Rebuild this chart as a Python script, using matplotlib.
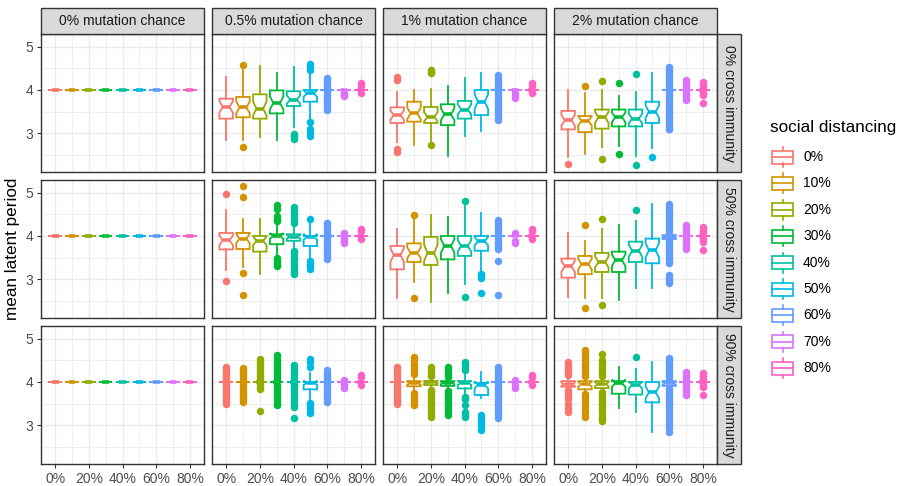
import matplotlib
matplotlib.use('Agg')
import matplotlib.pyplot as plt
from matplotlib.patches import Rectangle
import numpy as np

plt.rcParams['font.family'] = ['Liberation Sans', 'DejaVu Sans']

# ---------------- data ----------------
distancing = ['0%', '10%', '20%', '30%', '40%', '50%', '60%', '70%', '80%']
distancing_x = [0, 10, 20, 30, 40, 50, 60, 70, 80]
x_ticks = [0, 20, 40, 60, 80]
x_ticklabels = ['0%', '20%', '40%', '60%', '80%']
mutation_labels = ['0% mutation chance', '0.5% mutation chance', '1% mutation chance', '2% mutation chance']
immunity_labels = ['0% cross immunity', '50% cross immunity', '90% cross immunity']
colors = ['#F8766D', '#D39200', '#93AA00', '#00BA38', '#00C19F', '#00B9E3', '#619CFF', '#DB72FB', '#FF61C3']
n_runs = 30  # runs per box (used for notch width)

# box stats: (lower whisker, q1, median, q3, upper whisker)
stats_m0 = [(4, 4, 4, 4, 4)] * 9
fliers_m0 = [[] for _ in range(9)]

stats_m05_c0 = [(2.84, 3.34, 3.61, 3.80, 4.30), (2.84, 3.37, 3.60, 3.84, 4.46), (2.92, 3.34, 3.57, 3.90, 4.56),
                (2.84, 3.46, 3.70, 3.99, 4.40), (3.15, 3.63, 3.78, 3.97, 4.52), (3.34, 3.73, 3.92, 4.00, 4.38),
                (4, 4, 4, 4, 4), (4, 4, 4, 4, 4), (4, 4, 4, 4, 4)]
fliers_m05_c0 = [[], [4.57, 2.69], [], [], [2.99, 2.93, 2.86],
                 [4.61, 4.53, 4.46, 3.27, 3.11, 3.03, 2.94],
                 [4.27, 4.22, 4.17, 4.12, 4.07, 4.03, 3.97, 3.92, 3.87, 3.82, 3.76, 3.70, 3.64, 3.58, 3.53],
                 [3.85, 3.90, 3.94], [4.15, 4.10, 3.92]]

stats_m1_c0 = [(2.80, 3.24, 3.42, 3.60, 3.96), (2.73, 3.27, 3.46, 3.73, 4.01), (2.80, 3.24, 3.38, 3.61, 4.03),
               (2.47, 3.19, 3.44, 3.67, 4.09), (2.93, 3.34, 3.55, 3.75, 4.27), (3.05, 3.42, 3.73, 4.00, 4.38),
               (4, 4, 4, 4, 4), (4, 4, 4, 4, 4), (4, 4, 4, 4, 4)]
fliers_m1_c0 = [[4.29, 4.22, 2.65, 2.57], [], [4.46, 4.42, 4.38, 2.73], [], [], [],
                [4.34, 4.28, 4.22, 4.16, 4.10, 4.05, 3.95, 3.90, 3.84, 3.78, 3.72, 3.66, 3.60, 3.54, 3.48, 3.42, 3.36, 3.30],
                [3.82, 3.87, 3.92], [4.15, 4.10, 3.93]]

stats_m2_c0 = [(2.46, 3.09, 3.30, 3.52, 4.01), (2.52, 3.03, 3.29, 3.40, 3.92), (2.69, 3.11, 3.37, 3.55, 4.00),
               (2.70, 3.16, 3.37, 3.55, 3.86), (2.47, 3.16, 3.34, 3.55, 3.96), (2.67, 3.24, 3.50, 3.73, 4.38),
               (4, 4, 4, 4, 4), (4, 4, 4, 4, 4), (4, 4, 4, 4, 4)]
fliers_m2_c0 = [[2.30], [4.09], [4.20, 2.42], [4.15, 2.53], [4.36, 2.26], [2.46],
                [4.53, 4.47, 4.41, 4.35, 4.29, 4.23, 4.17, 4.11, 4.05, 3.95, 3.89, 3.83, 3.77, 3.71, 3.65,
                 3.59, 3.53, 3.47, 3.41, 3.35, 3.29, 3.23, 3.17, 3.11, 3.09],
                [4.23, 4.17, 4.11, 4.06, 3.94, 3.88, 3.82, 3.76], [4.19, 4.13, 4.07, 3.94, 3.88, 3.70]]

stats_m05_c50 = [(3.21, 3.69, 3.90, 4.07, 4.61), (3.29, 3.70, 3.94, 4.07, 4.40), (3.13, 3.64, 3.89, 4.00, 4.38),
                 (3.53, 3.81, 4.00, 4.04, 4.29), (3.69, 3.89, 3.98, 4.04, 4.21), (3.46, 3.77, 3.98, 4.00, 4.29),
                 (4, 4, 4, 4, 4), (4, 4, 4, 4, 4), (4, 4, 4, 4, 4)]
fliers_m05_c50 = [[4.97, 2.96], [5.15, 4.90, 3.15, 2.65], [],
                  [4.71, 4.63, 4.45, 4.40, 4.35, 3.50, 3.45, 3.40, 3.35, 3.30],
                  [4.67, 4.60, 4.50, 4.42, 4.35, 4.29, 3.66, 3.60, 3.54, 3.48, 3.42, 3.36, 3.30, 3.24, 3.18, 3.13],
                  [4.38, 3.42, 3.36, 3.30, 3.25],
                  [4.29, 4.23, 4.17, 4.11, 4.05, 3.95, 3.89, 3.83, 3.77, 3.71, 3.65, 3.59, 3.53, 3.48],
                  [4.06, 3.94, 3.89, 3.84], [4.17, 4.12, 3.94]]

stats_m1_c50 = [(2.56, 3.23, 3.56, 3.77, 4.17), (2.94, 3.40, 3.61, 3.83, 4.40), (2.48, 3.33, 3.61, 3.98, 4.48),
                (2.69, 3.46, 3.77, 4.00, 4.44), (2.90, 3.54, 3.77, 4.00, 4.71), (3.17, 3.66, 3.88, 4.00, 4.52),
                (4, 4, 4, 4, 4), (4, 4, 4, 4, 4), (4, 4, 4, 4, 4)]
fliers_m1_c50 = [[], [4.48, 2.58], [], [], [4.81, 2.60], [3.13, 3.08, 3.04, 2.69],
                 [4.37, 4.31, 4.25, 4.19, 4.13, 4.07, 3.93, 3.87, 3.81, 3.75, 3.69, 3.43, 2.63],
                 [4.06, 3.88, 3.83], [4.17, 4.12, 3.94]]

stats_m2_c50 = [(2.60, 3.04, 3.30, 3.48, 4.06), (2.56, 3.12, 3.35, 3.54, 3.89), (2.56, 3.17, 3.40, 3.61, 4.15),
                (2.53, 3.17, 3.44, 3.64, 4.25), (2.79, 3.40, 3.66, 3.87, 4.35), (2.81, 3.37, 3.67, 3.94, 4.73),
                (3.93, 3.93, 3.98, 4.02, 4.02), (4, 4, 4, 4, 4), (4, 4, 4, 4, 4)]
fliers_m2_c50 = [[], [4.25, 2.33], [4.38, 2.40], [], [4.60], [],
                 [4.73, 4.67, 4.61, 4.55, 4.49, 4.43, 4.37, 4.31, 4.25, 4.19, 4.13, 4.07, 3.88, 3.82, 3.76,
                  3.70, 3.64, 3.58, 3.52, 3.46, 3.40, 3.37, 3.10, 3.04, 2.98, 2.92],
                 [4.25, 4.19, 4.13, 4.07, 3.93, 3.87, 3.81, 3.75, 3.71], [4.21, 4.15, 4.09, 3.93, 3.87, 3.67]]

stats_m05_c90 = [(4, 4, 4, 4, 4), (4, 4, 4, 4, 4), (4, 4, 4, 4, 4), (4, 4, 4, 4, 4), (4, 4, 4, 4, 4),
                 (3.56, 3.83, 3.98, 4.00, 4.20), (4, 4, 4, 4, 4), (4, 4, 4, 4, 4), (4, 4, 4, 4, 4)]
fliers_m05_c90 = [[4.35, 4.29, 4.23, 4.17, 4.11, 4.05, 3.95, 3.89, 3.83, 3.77, 3.71, 3.65, 3.59, 3.53, 3.50],
                  [4.33, 4.27, 4.21, 4.15, 4.09, 4.04, 3.96, 3.90, 3.84, 3.78, 3.72, 3.66, 3.60, 3.54],
                  [4.53, 4.47, 4.41, 4.35, 4.29, 4.23, 4.17, 4.11, 4.05, 3.95, 3.89, 3.83, 3.33],
                  [4.62, 4.56, 4.50, 4.44, 4.38, 4.32, 4.26, 4.20, 4.14, 4.08, 3.92, 3.86, 3.80, 3.74, 3.68,
                   3.62, 3.56, 3.50, 3.46],
                  [4.39, 4.33, 4.27, 4.21, 4.15, 4.09, 4.04, 3.96, 3.90, 3.84, 3.78, 3.72, 3.66, 3.60, 3.54,
                   3.48, 3.42, 3.17],
                  [4.54, 4.47, 4.35, 3.52, 3.46, 3.40, 3.34, 3.28],
                  [4.27, 4.21, 4.15, 4.09, 4.04, 3.96, 3.90, 3.84, 3.78, 3.72, 3.66, 3.60, 3.54],
                  [4.04, 3.92, 3.86], [4.16, 4.11, 3.93]]

stats_m1_c90 = [(4, 4, 4, 4, 4), (3.80, 3.90, 3.97, 4.02, 4.10), (3.85, 3.93, 3.99, 4.02, 4.10),
                (3.83, 3.91, 3.98, 4.02, 4.10), (3.68, 3.85, 3.98, 4.02, 4.17), (3.62, 3.70, 3.93, 3.98, 4.22),
                (4, 4, 4, 4, 4), (4, 4, 4, 4, 4), (4, 4, 4, 4, 4)]
fliers_m1_c90 = [[4.35, 4.29, 4.23, 4.17, 4.11, 4.05, 3.95, 3.89, 3.83, 3.77, 3.71, 3.65, 3.59, 3.53, 3.50],
                 [4.58, 4.50, 4.42, 4.34, 4.26, 4.19, 3.74, 3.68, 3.62, 3.56, 3.50, 3.46],
                 [4.35, 4.29, 4.23, 4.17, 4.13, 3.81, 3.75, 3.69, 3.63, 3.57, 3.51, 3.45, 3.39, 3.33, 3.27, 3.20],
                 [4.35, 4.27, 4.19, 4.12, 3.79, 3.73, 3.67, 3.61, 3.55, 3.49, 3.43, 3.37, 3.31, 3.25],
                 [4.47, 4.41, 4.34, 4.27, 3.66, 3.60, 3.48, 3.30, 3.24, 3.20],
                 [3.23, 3.17, 3.11, 3.05, 2.99, 2.89],
                 [4.35, 4.29, 4.23, 4.17, 4.11, 4.05, 3.95, 3.89, 3.83, 3.77, 3.71, 3.65, 3.59, 3.53, 3.47,
                  3.41, 3.35, 3.29, 3.23, 3.16],
                 [4.04, 3.92, 3.86], [4.16, 4.11, 3.93]]

stats_m2_c90 = [(3.85, 3.89, 3.95, 4.02, 4.10), (3.80, 3.83, 3.95, 4.02, 4.08), (3.80, 3.86, 3.95, 4.02, 4.08),
                (3.39, 3.73, 3.97, 4.02, 4.35), (3.30, 3.71, 3.93, 4.00, 4.31), (2.85, 3.53, 3.76, 4.00, 4.47),
                (3.88, 3.91, 3.97, 4.02, 4.06), (4, 4, 4, 4, 4), (4, 4, 4, 4, 4)]
fliers_m2_c90 = [[4.47, 4.41, 4.35, 4.29, 4.22, 4.16, 3.81, 3.75, 3.69, 3.60, 3.50, 3.40, 3.31],
                 [4.74, 4.68, 4.62, 4.56, 4.50, 4.44, 4.38, 4.32, 4.26, 4.20, 4.14, 3.73, 3.67, 3.61, 3.55,
                  3.45, 3.35, 3.28, 3.20],
                 [4.64, 4.50, 4.44, 4.38, 4.32, 4.26, 4.20, 4.14, 3.77, 3.71, 3.65, 3.59, 3.53, 3.47, 3.41,
                  3.35, 3.29, 3.20, 3.14, 3.10],
                 [], [4.58], [],
                 [4.56, 4.50, 4.44, 4.38, 4.32, 4.26, 4.20, 4.14, 4.08, 3.85, 3.79, 3.73, 3.67, 3.61, 3.55,
                  3.49, 3.43, 3.35, 3.27, 3.19, 3.11, 3.03, 2.95, 2.85],
                 [4.23, 4.17, 4.11, 4.05, 3.95, 3.89, 3.83, 3.77, 3.71], [4.20, 4.14, 4.08, 3.94, 3.88, 3.71]]

grid_stats = [[stats_m0, stats_m05_c0, stats_m1_c0, stats_m2_c0],
              [stats_m0, stats_m05_c50, stats_m1_c50, stats_m2_c50],
              [stats_m0, stats_m05_c90, stats_m1_c90, stats_m2_c90]]
grid_fliers = [[fliers_m0, fliers_m05_c0, fliers_m1_c0, fliers_m2_c0],
               [fliers_m0, fliers_m05_c50, fliers_m1_c50, fliers_m2_c50],
               [fliers_m0, fliers_m05_c90, fliers_m1_c90, fliers_m2_c90]]

# ---------------- layout ----------------
W, H = 898, 486
fig = plt.figure(figsize=(W / 100, H / 100), dpi=100)

col_left = [41, 212, 383, 554]
col_w = 163
row_top = [34, 180, 326]
row_h = 138
strip_top_y, strip_top_h = 8, 26
strip_right_x, strip_right_w = 717, 24
BORDER = '#333333'
GRID = '#EBEBEB'
FS_SMALL = 10.0
FS_TITLE = 12.3


def fbox(x, y, w, h):
    return [x / W, 1 - (y + h) / H, w / W, h / H]


for r in range(3):
    for c in range(4):
        ax = fig.add_axes(fbox(col_left[c], row_top[r], col_w, row_h))
        ax.set_xlim(-8.4, 88.4)
        ax.set_ylim(2.11, 5.29)
        ax.set_xticks(x_ticks)
        ax.set_xticks([10, 30, 50, 70], minor=True)
        ax.set_yticks([3, 4, 5])
        ax.set_yticks([2.5, 3.5, 4.5], minor=True)
        ax.grid(which='major', color=GRID, lw=1.0)
        ax.grid(which='minor', color=GRID, lw=0.6)
        ax.set_axisbelow(True)
        for s in ax.spines.values():
            s.set_color(BORDER)
            s.set_linewidth(1.0)
        ax.tick_params(which='minor', length=0)
        ax.tick_params(which='major', direction='out', length=3, width=0.8, color=BORDER,
                       labelsize=FS_SMALL, labelcolor='#4D4D4D', pad=2.5)
        if c == 0:
            ax.set_yticklabels(['3', '4', '5'])
        else:
            ax.tick_params(axis='y', length=0, labelleft=False)
        if r == 2:
            ax.set_xticklabels(x_ticklabels)
        else:
            ax.tick_params(axis='x', length=0, labelbottom=False)

        stats = grid_stats[r][c]
        fliers = grid_fliers[r][c]
        for i in range(9):
            lo, q1, med, q3, hi = stats[i]
            half = 1.58 * (q3 - q1) / np.sqrt(n_runs)
            d = dict(whislo=lo, q1=q1, med=med, q3=q3, whishi=hi,
                     cilo=med - half, cihi=med + half, fliers=fliers[i])
            col = colors[i]
            ax.bxp([d], positions=[distancing_x[i]], widths=8, shownotches=True, showcaps=False,
                   patch_artist=True, manage_ticks=False,
                   boxprops=dict(facecolor='white', edgecolor=col, lw=1.3),
                   whiskerprops=dict(color=col, lw=1.3),
                   medianprops=dict(color=col, lw=2.6, solid_capstyle='butt'),
                   flierprops=dict(marker='o', markerfacecolor=col, markeredgecolor='none',
                                   markersize=5.4))

# overlay for strips and legend (pixel coordinates)
ov = fig.add_axes([0, 0, 1, 1], facecolor='none')
ov.set_xlim(0, W)
ov.set_ylim(H, 0)
ov.axis('off')

for c in range(4):
    ov.add_patch(Rectangle((col_left[c], strip_top_y), col_w, strip_top_h,
                           facecolor='#D9D9D9', edgecolor=BORDER, lw=1.0))
    ov.text(col_left[c] + col_w / 2, strip_top_y + strip_top_h / 2, mutation_labels[c],
            ha='center', va='center', fontsize=FS_SMALL, color='#1A1A1A')
for r in range(3):
    ov.add_patch(Rectangle((strip_right_x, row_top[r]), strip_right_w, row_h,
                           facecolor='#D9D9D9', edgecolor=BORDER, lw=1.0))
    ov.text(strip_right_x + strip_right_w / 2, row_top[r] + row_h / 2, immunity_labels[r],
            ha='center', va='center', rotation=-90, fontsize=FS_SMALL, color='#1A1A1A')

# y-axis title
ov.text(13, (row_top[0] + row_top[2] + row_h) / 2, 'mean latent period', rotation=90,
        ha='center', va='center', fontsize=FS_TITLE, color='black')

# legend
ov.text(770, 127, 'social distancing', ha='left', va='center', fontsize=FS_TITLE, color='black')
for i, lab in enumerate(distancing):
    yc = 157 + i * 26.4
    col = colors[i]
    ov.plot([782.5, 782.5], [yc - 10, yc - 6.5], color=col, lw=1.2)
    ov.plot([782.5, 782.5], [yc + 6.5, yc + 10], color=col, lw=1.2)
    ov.add_patch(Rectangle((772, yc - 6.5), 21, 13, facecolor='white', edgecolor=col, lw=1.2))
    ov.plot([772, 793], [yc, yc], color=col, lw=1.2)
    ov.text(803, yc, lab, ha='left', va='center', fontsize=FS_SMALL, color='black')

fig.savefig('out.png', dpi=100)
